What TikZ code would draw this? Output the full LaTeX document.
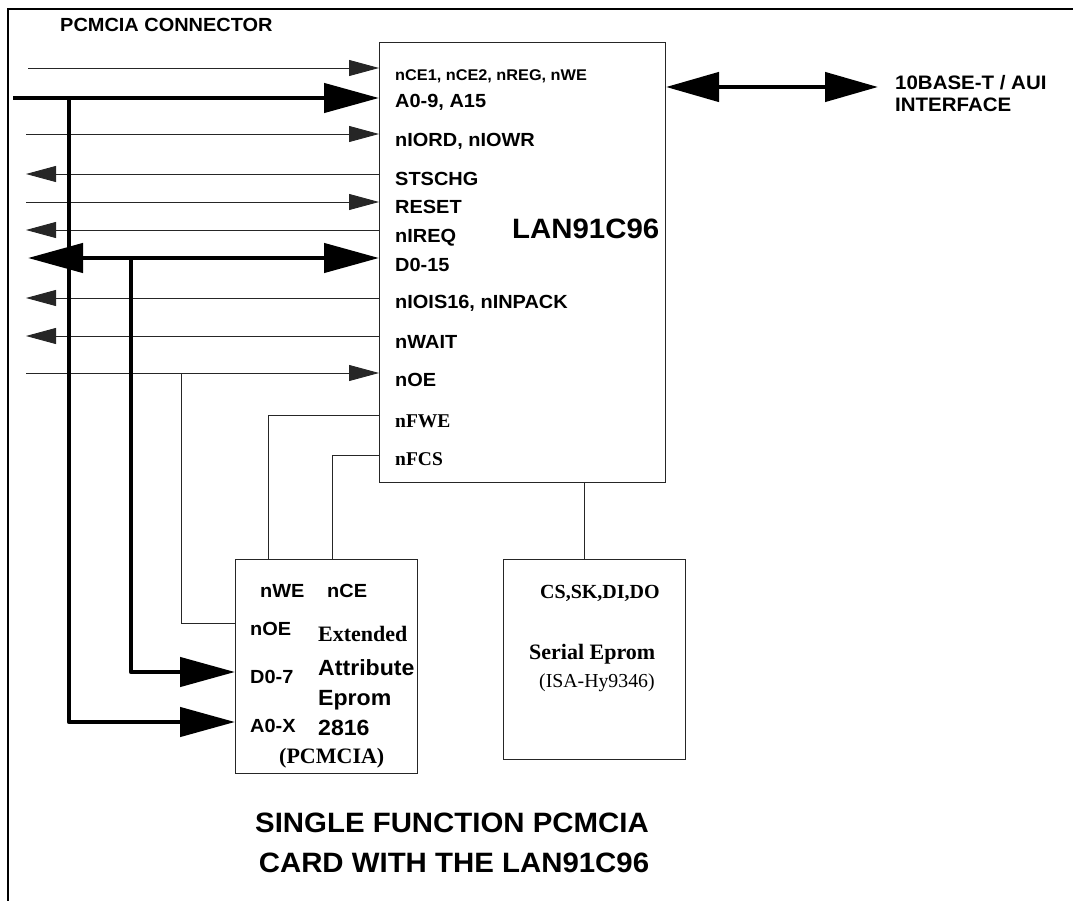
\documentclass[tikz,border=0pt]{standalone}
\usepackage{fontspec}
\setmainfont{Liberation Sans}[FakeStretch=1.05]
\newfontfamily\tms{Liberation Serif}
\usetikzlibrary{arrows.meta}
\begin{document}
\begin{tikzpicture}[x=1pt,y=-1pt,
  box/.style={draw=black!85, line width=1pt, anchor=north west, inner sep=0pt},
  thinline/.style={draw=black!85, line width=0.9pt},
  thinarr/.style={thinline, -{Triangle[length=30pt,width=16pt]}},
  bus/.style={line width=4.5pt, line join=round},
  busarr/.style={bus, -{Triangle[length=55pt,width=29pt]}},
  busboth/.style={bus, {Triangle[length=55pt,width=29pt]}-{Triangle[length=55pt,width=29pt]}},
  lab/.style={anchor=base west, inner sep=0pt, font=\fontsize{19}{19}\selectfont\bfseries},
  labsm/.style={anchor=base west, inner sep=0pt, font=\fontsize{15.5}{15.5}\selectfont\bfseries},
  labser/.style={anchor=base west, inner sep=0pt, font=\fontsize{19.5}{19.5}\selectfont\tms\bfseries},
  labbig/.style={anchor=base west, inner sep=0pt, font=\fontsize{22}{22}\selectfont\bfseries},
  labbigser/.style={anchor=base west, inner sep=0pt, font=\fontsize{22}{22}\selectfont\tms\bfseries},
  title/.style={anchor=base, inner sep=0pt, font=\fontsize{28}{28}\selectfont\bfseries}
]
\useasboundingbox (0,0) rectangle (1073,901);
% frame
\draw[line width=2pt] (1073,9) -- (8,9) -- (8,901);

% boxes
\node[box, minimum width=286pt, minimum height=440pt] (chip) at (379,42) {};
\node[box, minimum width=182pt, minimum height=214pt] (attr) at (235,559) {};
\node[box, minimum width=182pt, minimum height=200pt] (ser) at (503,559) {};

% header
\node[anchor=base west, inner sep=0pt, font=\fontsize{19}{19}\selectfont\bfseries] (hdr) at (60,31.5) {PCMCIA CONNECTOR};

% left coordinates
\coordinate (pCE) at (28,68);
\coordinate (pA) at (13,98);
\coordinate (jA) at (69,98);
\coordinate (pIO) at (26,134);
\coordinate (pST) at (26,174);
\coordinate (pRS) at (26,202);
\coordinate (pIRQ) at (26,230);
\coordinate (pD) at (28,258);
\coordinate (jD) at (131,258);
\coordinate (pIS) at (26,298);
\coordinate (pWT) at (26,336);
\coordinate (pOE) at (26,373);
\coordinate (jOE) at (181,373);

% signals
\draw[thinarr] (pCE) -- (chip.west |- pCE);
\draw[busarr] (pA) -- (chip.west |- pA);
\draw[thinarr] (pIO) -- (chip.west |- pIO);
\draw[thinarr] (chip.west |- pST) -- (pST);
\draw[thinarr] (pRS) -- (chip.west |- pRS);
\draw[thinarr] (chip.west |- pIRQ) -- (pIRQ);
\draw[busboth] (pD) -- (chip.west |- pD);
\draw[thinarr] (chip.west |- pIS) -- (pIS);
\draw[thinarr] (chip.west |- pWT) -- (pWT);
\draw[thinarr] (pOE) -- (chip.west |- pOE);

% buses to attribute eprom
\draw[busarr] (jA) -- (69,722) -- (attr.west |- 0,722);
\draw[busarr] (jD) -- (131,672) -- (attr.west |- 0,672);

% control lines to attribute eprom
\draw[thinline] (jOE) -- (181,623) -- (attr.west |- 0,623);
\draw[thinline] (chip.west |- 0,415) -- (268,415) -- (attr.north -| 268,0);
\draw[thinline] (chip.west |- 0,455) -- (332,455) -- (attr.north -| 332,0);

% serial eprom
\draw[thinline] (chip.south -| 584,0) -- (ser.north -| 584,0);

% network interface
\coordinate (pNet) at (878,87);
\draw[bus, {Triangle[length=53pt,width=29pt]}-{Triangle[length=53pt,width=29pt]}] (chip.east |- pNet) -- (pNet);
\node[anchor=base west, inner sep=0pt, font=\fontsize{19.5}{19.5}\selectfont\bfseries] (net1) at (895,90) {10BASE-T / AUI};
\node[anchor=base west, inner sep=0pt, font=\fontsize{19.5}{19.5}\selectfont\bfseries] (net2) at (895,112) {INTERFACE};

% chip labels
\node[labsm] (lCE) at (395,81) {nCE1, nCE2, nREG, nWE};
\node[lab] (lA) at (395,108) {A0-9, A15};
\node[lab] (lIO) at (395,146.5) {nIORD, nIOWR};
\node[lab] (lST) at (395,186) {STSCHG};
\node[lab] (lRS) at (395,214) {RESET};
\node[lab] (lIRQ) at (395,243) {nIREQ};
\node[lab] (lD) at (395,272) {D0-15};
\node[lab] (lIS) at (395,308) {nIOIS16, nINPACK};
\node[lab] (lWT) at (395,348) {nWAIT};
\node[lab] (lOE) at (395,386) {nOE};
\node[labser] (lFWE) at (395,427) {nFWE};
\node[labser] (lFCS) at (395,465) {nFCS};
\node[anchor=base west, inner sep=0pt, font=\fontsize{28}{28}\selectfont\bfseries] (lLAN) at (512,239) {LAN91C96};

% attribute eprom labels
\node[lab] (aWE) at (260,597) {nWE};
\node[lab] (aCE) at (327,597) {nCE};
\node[lab] (aOE) at (250,635) {nOE};
\node[lab] (aD) at (250,683) {D0-7};
\node[lab] (aA) at (250,732) {A0-X};
\node[labbigser] (aExt) at (318,641) {Extended};
\node[labbig] (aAtt) at (318,675) {Attribute};
\node[labbig] (aEp) at (318,705) {Eprom};
\node[labbig] (a28) at (318,735) {2816};
\node[labbigser] (aPC) at (279,763) {(PCMCIA)};

% serial eprom labels
\node[anchor=base west, inner sep=0pt, font=\fontsize{20}{20}\selectfont\tms\bfseries] (sCS) at (540,598) {CS,SK,DI,DO};
\node[labbigser] (sSE) at (529,659) {Serial Eprom};
\node[anchor=base west, inner sep=0pt, font=\fontsize{19.8}{19.8}\selectfont\tms] (sISA) at (539,687) {(ISA-Hy9346)};

% title
\node[title] (t1) at (452,832) {SINGLE FUNCTION PCMCIA};
\node[title] (t2) at (454,872) {CARD WITH THE LAN91C96};
\end{tikzpicture}
\end{document}
